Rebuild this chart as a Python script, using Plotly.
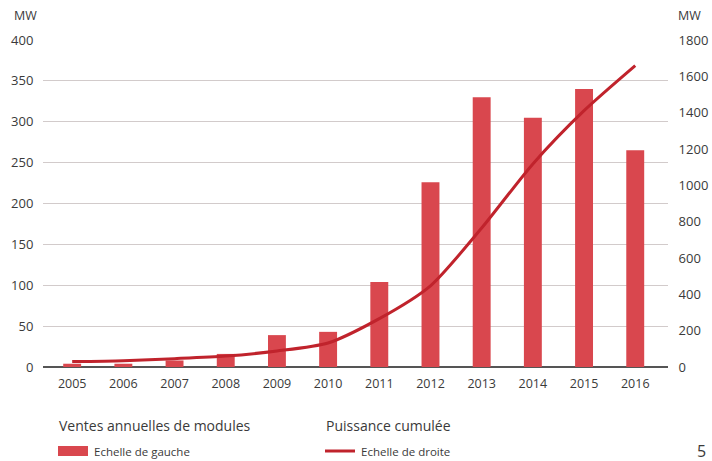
import plotly.graph_objects as go

years = ["2005", "2006", "2007", "2008", "2009", "2010", "2011", "2012", "2013", "2014", "2015", "2016"]
ventes = [4, 4, 8, 16, 39, 43, 104, 226, 330, 305, 340, 265]
cumul = [30, 35, 46, 60, 88, 132, 266, 447, 765, 1118, 1411, 1659]
left_ticks = [0, 50, 100, 150, 200, 250, 300, 350, 400]
right_ticks = [0, 200, 400, 600, 800, 1000, 1200, 1400, 1600, 1800]

BAR = "#d9474e"
LINE = "#c0232c"
TXT = "#3a3a3a"
FONT = "Open Sans"

fig = go.Figure()
fig.add_trace(go.Bar(x=years, y=ventes, marker=dict(color=BAR, line=dict(width=0)),
                     width=0.35, name="Echelle de gauche", yaxis="y"))
fig.add_trace(go.Scatter(x=years, y=cumul, mode="lines", line=dict(color=LINE, width=3, shape="spline", smoothing=0.7),
                         name="Echelle de droite", yaxis="y2"))

fig.update_layout(
    width=712, height=461,
    margin=dict(l=43, r=44, t=40, b=94),
    paper_bgcolor="white", plot_bgcolor="white",
    showlegend=False,
    font=dict(family=FONT, color=TXT, size=12),
    xaxis=dict(type="category", range=[-0.57, 11.64], showgrid=False, showline=False, automargin=False,
               ticks="outside", ticklen=5, tickcolor="rgba(0,0,0,0)", tickfont=dict(size=12.5, color=TXT)),
    yaxis=dict(range=[0, 400], tickvals=left_ticks, showgrid=True, gridcolor="#d2cbcb", gridwidth=1,
               zeroline=True, zerolinecolor="#555555", zerolinewidth=1.5, automargin=False,
               ticks="outside", ticklen=6, tickcolor="rgba(0,0,0,0)", tickfont=dict(size=13, color=TXT)),
    yaxis2=dict(range=[0, 1800], tickvals=right_ticks, overlaying="y", side="right", showgrid=False,
                zeroline=False, ticks="outside", ticklen=7, tickcolor="rgba(0,0,0,0)", automargin=False,
                tickfont=dict(size=13, color=TXT)),
)

ann = []
ann.append(dict(text="MW", xref="paper", yref="paper", x=-(43-12)/625, y=(367-15)/327, xanchor="left", yanchor="middle",
                showarrow=False, font=dict(size=12.5, color=TXT)))
ann.append(dict(text="MW", xref="paper", yref="paper", x=(676-43)/625, y=(367-15)/327, xanchor="left", yanchor="middle",
                showarrow=False, font=dict(size=12.5, color=TXT)))
# legend headings
ann.append(dict(text="Ventes annuelles de modules", xref="paper", yref="paper", x=(57-43)/625, y=-(426-367)/327,
                xanchor="left", yanchor="middle", showarrow=False, font=dict(size=14, color=TXT)))
ann.append(dict(text="Puissance cumulée", xref="paper", yref="paper", x=(324-43)/625, y=-(426-367)/327,
                xanchor="left", yanchor="middle", showarrow=False, font=dict(size=14, color=TXT)))
ann.append(dict(text="Echelle de gauche", xref="paper", yref="paper", x=(92-43)/625, y=-(451-367)/327,
                xanchor="left", yanchor="middle", showarrow=False, font=dict(size=11.5, color=TXT)))
ann.append(dict(text="Echelle de droite", xref="paper", yref="paper", x=(359-43)/625, y=-(451-367)/327,
                xanchor="left", yanchor="middle", showarrow=False, font=dict(size=11.5, color=TXT)))
ann.append(dict(text="5", xref="paper", yref="paper", x=(701-43)/625, y=-(451-367)/327,
                xanchor="center", yanchor="middle", showarrow=False, font=dict(size=16, color=TXT)))
fig.update_layout(annotations=ann)

shapes = [
    dict(type="rect", xref="paper", yref="paper", x0=(58-43)/625, x1=(88-43)/625,
         y0=-(456-367)/327, y1=-(446-367)/327, fillcolor=BAR, line=dict(width=0)),
    dict(type="line", xref="paper", yref="paper", x0=(325-43)/625, x1=(355-43)/625,
         y0=-(451-367)/327, y1=-(451-367)/327, line=dict(color=LINE, width=3)),
]
fig.update_layout(shapes=shapes)

fig.write_html("out.html", config={"displayModeBar": False})
with open("out.html", "r", encoding="utf-8") as f:
    html = f.read()
html = html.replace("<head>", "<head><style>html,body{margin:0;padding:0;overflow:hidden;}</style>", 1)
with open("out.html", "w", encoding="utf-8") as f:
    f.write(html)
